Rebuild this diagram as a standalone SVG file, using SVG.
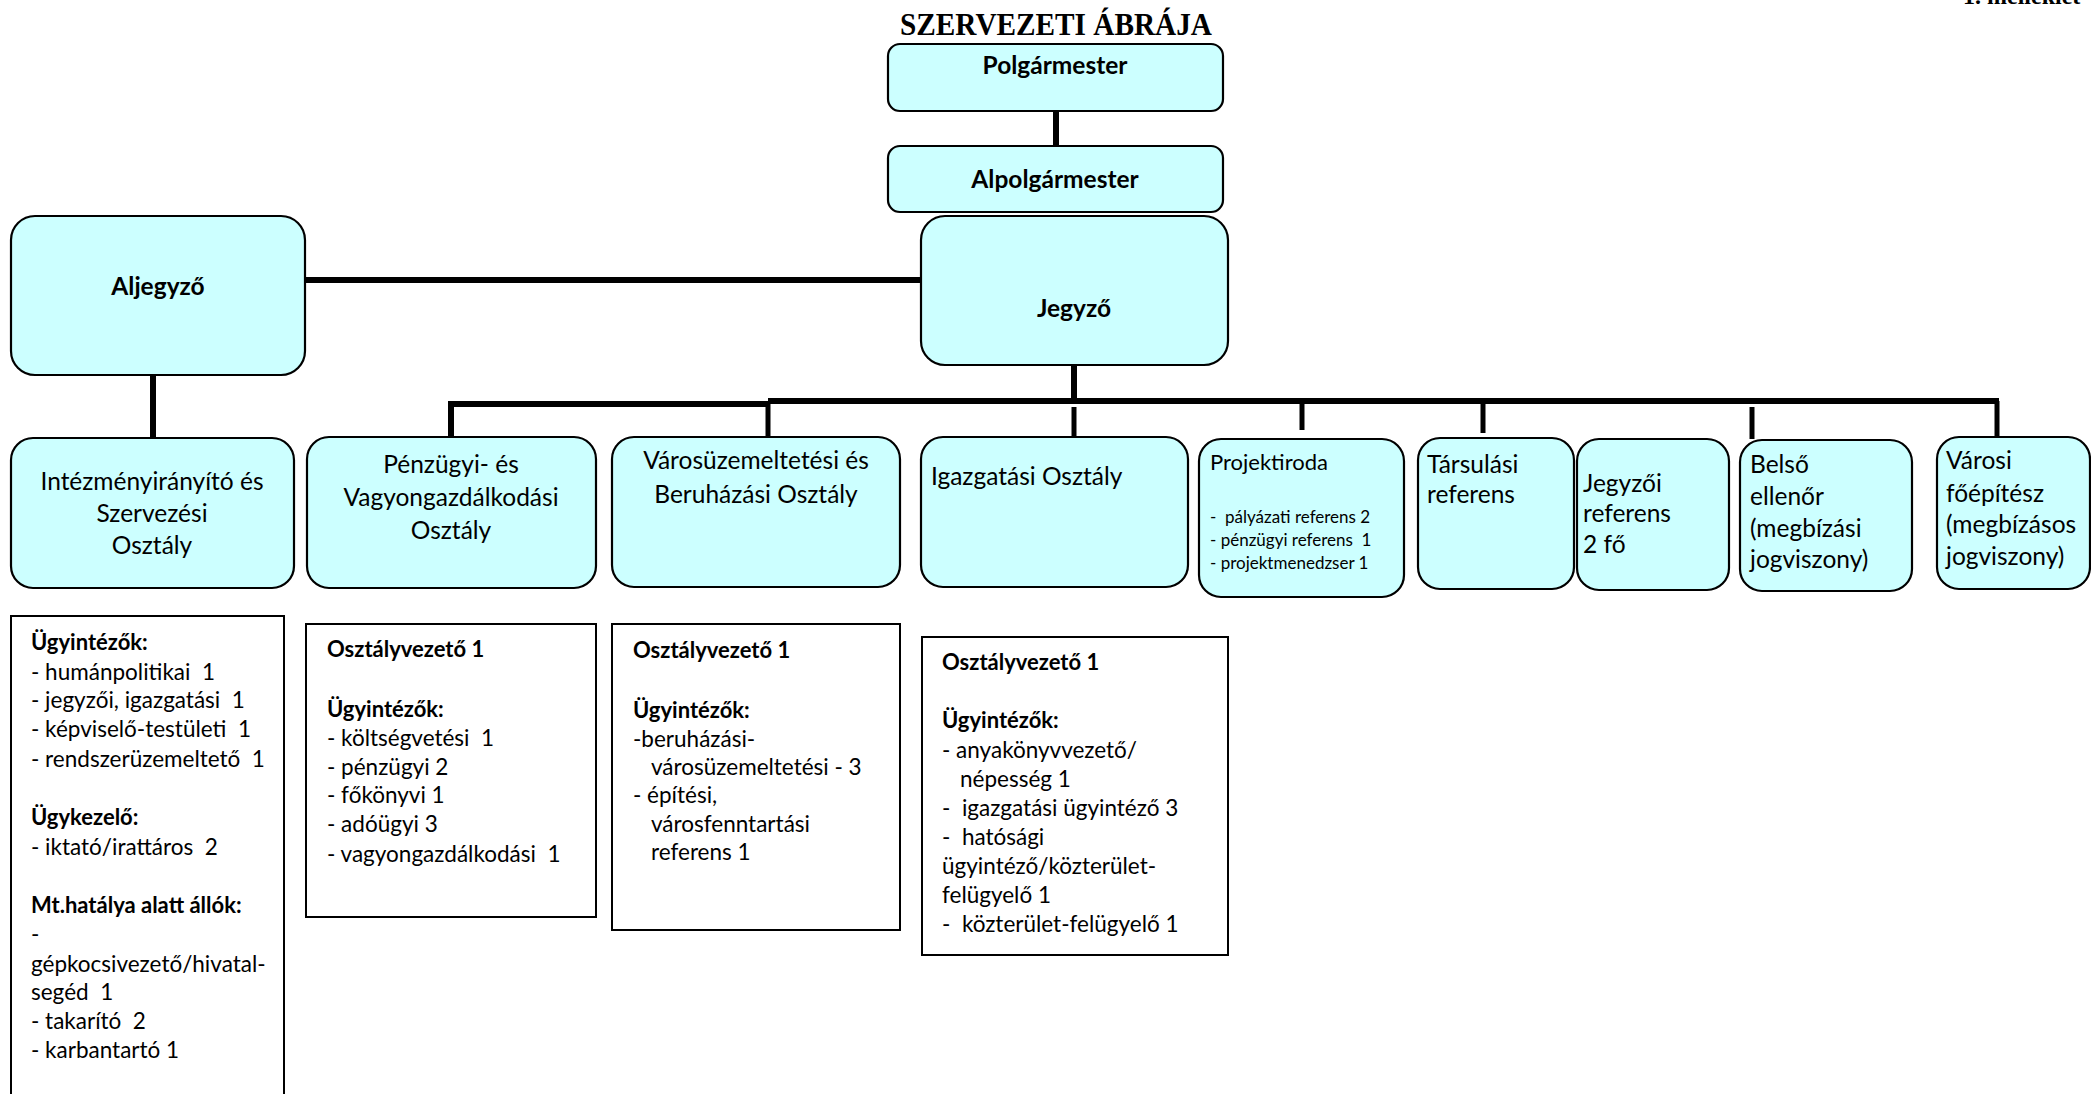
<svg xmlns="http://www.w3.org/2000/svg" width="2091" height="1094" viewBox="0 0 2091 1094">
<style>
.box{fill:#CCFFFF;stroke:#000;stroke-width:2.2}
.det{fill:#fff;stroke:#000;stroke-width:2}
.ln{stroke:#000;stroke-width:6;fill:none}
.st{stroke:#000;stroke-width:5;fill:none}
text{font-family:Lato,"Noto Sans","DejaVu Sans",sans-serif;fill:#000;white-space:pre}
.b{font-weight:bold;font-size:24.5px}
.n{font-size:24.5px}
.d{font-size:22.5px}
.db{font-weight:bold;font-size:22px}
.p{font-size:22px}
.s{font-size:17px}
.c{text-anchor:middle}
</style>
<rect width="2091" height="1094" fill="#fff"/>
<text x="1963" y="4" style="font-family:'Liberation Serif',serif;font-weight:bold;font-size:24px">1. melléklet</text>
<text x="900" y="35" textLength="312" lengthAdjust="spacingAndGlyphs" style="font-family:'Liberation Serif',serif;font-weight:bold;font-size:32px">SZERVEZETI ÁBRÁJA</text>
<g id="connectors">
<line class="ln" x1="1056" y1="111" x2="1056" y2="146"/>
<line class="ln" x1="305" y1="280" x2="921" y2="280"/>
<line class="ln" x1="153" y1="375" x2="153" y2="438"/>
<line class="ln" x1="1074" y1="365" x2="1074" y2="401"/>
<path class="ln" d="M451 437 V404 H768"/>
<line class="ln" x1="768" y1="401" x2="1999" y2="401"/>
<line class="st" x1="768" y1="401" x2="768" y2="437"/>
<line class="st" x1="1074" y1="407" x2="1074" y2="437"/>
<line class="st" x1="1302" y1="401" x2="1302" y2="430"/>
<line class="st" x1="1483" y1="401" x2="1483" y2="433"/>
<line class="st" x1="1752" y1="407" x2="1752" y2="439"/>
<line class="st" x1="1997" y1="401" x2="1997" y2="437"/>
</g>
<g id="polgarmester"><rect class="box" x="888" y="44" width="335" height="67" rx="12"/><text class="b c" x="1055" y="74">Polgármester</text></g>
<g id="alpolgarmester"><rect class="box" x="888" y="146" width="335" height="66" rx="12"/><text class="b c" x="1055" y="188">Alpolgármester</text></g>
<g id="aljegyzo"><rect class="box" x="11" y="216" width="294" height="159" rx="24"/><text class="b c" x="158" y="295">Aljegyző</text></g>
<g id="jegyzo"><rect class="box" x="921" y="216" width="307" height="149" rx="24"/><text class="b c" x="1074" y="317">Jegyző</text></g>
<g id="intezmeny"><rect class="box" x="11" y="438" width="283" height="150" rx="22"/><text class="n c" x="152"><tspan x="152" y="490">Intézményirányító és</tspan><tspan x="152" y="522">Szervezési</tspan><tspan x="152" y="554">Osztály</tspan></text></g>
<g id="penzugyi"><rect class="box" x="307" y="437" width="289" height="151" rx="22"/><text class="n c"><tspan x="451" y="473">Pénzügyi- és</tspan><tspan x="451" y="506">Vagyongazdálkodási</tspan><tspan x="451" y="539">Osztály</tspan></text></g>
<g id="varosuzem"><rect class="box" x="612" y="437" width="288" height="150" rx="22"/><text class="n c"><tspan x="756" y="469">Városüzemeltetési és</tspan><tspan x="756" y="503">Beruházási Osztály</tspan></text></g>
<g id="igazgatasi"><rect class="box" x="921" y="437" width="267" height="150" rx="22"/><text class="n" x="931" y="485">Igazgatási Osztály</text></g>
<g id="projektiroda"><rect class="box" x="1199" y="439" width="205" height="158" rx="22"/><text class="p" x="1210" y="470">Projektiroda</text><text class="s"><tspan x="1210" y="523">-  pályázati referens 2</tspan><tspan x="1210" y="546">- pénzügyi referens  1</tspan><tspan x="1210" y="569">- projektmenedzser 1</tspan></text></g>
<g id="tarsulasi"><rect class="box" x="1418" y="438" width="156" height="151" rx="22"/><text class="n"><tspan x="1427" y="473">Társulási</tspan><tspan x="1427" y="503">referens</tspan></text></g>
<g id="jegyzoi-referens"><rect class="box" x="1577" y="439" width="152" height="151" rx="22"/><text class="n"><tspan x="1583" y="492">Jegyzői</tspan><tspan x="1583" y="522">referens</tspan><tspan x="1583" y="553">2 fő</tspan></text></g>
<g id="belso-ellenor"><rect class="box" x="1740" y="440" width="172" height="151" rx="22"/><text class="n"><tspan x="1750" y="473">Belső</tspan><tspan x="1750" y="505">ellenőr</tspan><tspan x="1750" y="537">(megbízási</tspan><tspan x="1750" y="568">jogviszony)</tspan></text></g>
<g id="varosi-foepitesz"><rect class="box" x="1937" y="437" width="153" height="152" rx="22"/><text class="n"><tspan x="1946" y="469">Városi</tspan><tspan x="1946" y="502">főépítész</tspan><tspan x="1946" y="533">(megbízásos</tspan><tspan x="1946" y="565">jogviszony)</tspan></text></g>
<g id="intezmeny-reszletek"><rect class="det" x="11" y="616" width="273" height="500"/>
<text class="d"><tspan x="31" y="650" class="db">Ügyintézők:</tspan><tspan x="31" y="680">- humánpolitikai  1</tspan><tspan x="31" y="708">- jegyzői, igazgatási  1</tspan><tspan x="31" y="737">- képviselő-testületi  1</tspan><tspan x="31" y="767">- rendszerüzemeltető  1</tspan><tspan x="31" y="825" class="db">Ügykezelő:</tspan><tspan x="31" y="855">- iktató/irattáros  2</tspan><tspan x="31" y="913" class="db">Mt.hatálya alatt állók:</tspan><tspan x="31" y="942">-</tspan><tspan x="31" y="972">gépkocsivezető/hivatal-</tspan><tspan x="31" y="1000">segéd  1</tspan><tspan x="31" y="1029">- takarító  2</tspan><tspan x="31" y="1058">- karbantartó 1</tspan></text></g>
<g id="penzugyi-reszletek"><rect class="det" x="306" y="624" width="290" height="293"/>
<text class="d"><tspan x="327" y="657" class="db">Osztályvezető 1</tspan><tspan x="327" y="717" class="db">Ügyintézők:</tspan><tspan x="327" y="746">- költségvetési  1</tspan><tspan x="327" y="775">- pénzügyi 2</tspan><tspan x="327" y="803">- főkönyvi 1</tspan><tspan x="327" y="832">- adóügyi 3</tspan><tspan x="327" y="862">- vagyongazdálkodási  1</tspan></text></g>
<g id="varosuzem-reszletek"><rect class="det" x="612" y="624" width="288" height="306"/>
<text class="d"><tspan x="633" y="658" class="db">Osztályvezető 1</tspan><tspan x="633" y="718" class="db">Ügyintézők:</tspan><tspan x="633" y="747">-beruházási-</tspan><tspan x="651" y="775">városüzemeltetési - 3</tspan><tspan x="633" y="803">- építési,</tspan><tspan x="651" y="832">városfenntartási</tspan><tspan x="651" y="860">referens 1</tspan></text></g>
<g id="igazgatasi-reszletek"><rect class="det" x="922" y="637" width="306" height="318"/>
<text class="d"><tspan x="942" y="670" class="db">Osztályvezető 1</tspan><tspan x="942" y="728" class="db">Ügyintézők:</tspan><tspan x="942" y="758">- anyakönyvvezető/</tspan><tspan x="960" y="787">népesség 1</tspan><tspan x="942" y="816">-  igazgatási ügyintéző 3</tspan><tspan x="942" y="845">-  hatósági</tspan><tspan x="942" y="874">ügyintéző/közterület-</tspan><tspan x="942" y="903">felügyelő 1</tspan><tspan x="942" y="932">-  közterület-felügyelő 1</tspan></text></g>
</svg>
